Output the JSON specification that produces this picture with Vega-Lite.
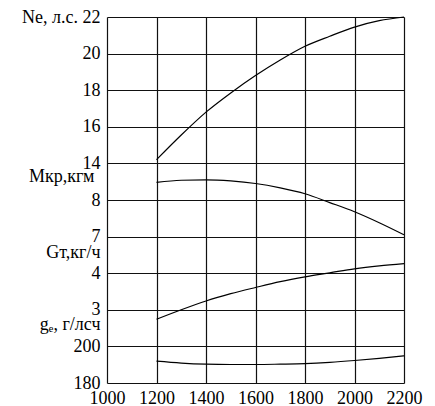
{
  "$schema": "https://vega.github.io/schema/vega-lite/v6.json",
  "width": 297,
  "height": 366,
  "autosize": {"type": "none"},
  "padding": {"left": 107, "top": 17, "right": 31, "bottom": 23},
  "background": "white",
  "config": {"view": {"stroke": null}, "font": "Liberation Serif, Times New Roman, serif"},
  "datasets": {
    "ne": [
      {"rpm": 1200, "v": 14.2}, {"rpm": 1300, "v": 15.55}, {"rpm": 1400, "v": 16.8},
      {"rpm": 1500, "v": 17.85}, {"rpm": 1600, "v": 18.8}, {"rpm": 1700, "v": 19.65},
      {"rpm": 1800, "v": 20.4}, {"rpm": 1900, "v": 20.95}, {"rpm": 2000, "v": 21.45},
      {"rpm": 2100, "v": 21.8}, {"rpm": 2200, "v": 22.0}
    ],
    "mkr": [
      {"rpm": 1200, "v": 8.48}, {"rpm": 1300, "v": 8.54}, {"rpm": 1400, "v": 8.55},
      {"rpm": 1500, "v": 8.52}, {"rpm": 1600, "v": 8.45}, {"rpm": 1700, "v": 8.33},
      {"rpm": 1800, "v": 8.17}, {"rpm": 1900, "v": 7.93}, {"rpm": 2000, "v": 7.68},
      {"rpm": 2100, "v": 7.38}, {"rpm": 2200, "v": 7.05}
    ],
    "gt": [
      {"rpm": 1200, "v": 2.74}, {"rpm": 1300, "v": 3.0}, {"rpm": 1400, "v": 3.24},
      {"rpm": 1500, "v": 3.44}, {"rpm": 1600, "v": 3.61}, {"rpm": 1700, "v": 3.77},
      {"rpm": 1800, "v": 3.9}, {"rpm": 1900, "v": 4.01}, {"rpm": 2000, "v": 4.12},
      {"rpm": 2100, "v": 4.2}, {"rpm": 2200, "v": 4.26}
    ],
    "ge": [
      {"rpm": 1200, "v": 191.9}, {"rpm": 1300, "v": 190.9}, {"rpm": 1400, "v": 190.3},
      {"rpm": 1500, "v": 190.1}, {"rpm": 1600, "v": 190.1}, {"rpm": 1700, "v": 190.3},
      {"rpm": 1800, "v": 190.6}, {"rpm": 1900, "v": 191.3}, {"rpm": 2000, "v": 192.3},
      {"rpm": 2100, "v": 193.5}, {"rpm": 2200, "v": 194.8}
    ]
  },
  "encoding": {
    "x": {
      "field": "rpm",
      "type": "quantitative",
      "scale": {"domain": [1000, 2200], "nice": false, "zero": false},
      "axis": {
        "values": [1000, 1200, 1400, 1600, 1800, 2000, 2200],
        "grid": true,
        "gridColor": "#111111",
        "gridWidth": 1.2,
        "gridOpacity": 1,
        "ticks": false,
        "domain": false,
        "title": null,
        "labelFont": "Liberation Serif, Times New Roman, serif",
        "labelFontSize": 18,
        "labelColor": "black",
        "labelPadding": 6,
        "labelFlush": false,
        "format": "d"
      }
    }
  },
  "layer": [
    {
      "data": {"name": "ne"},
      "mark": {"type": "line", "interpolate": "monotone", "color": "black", "strokeWidth": 1.2},
      "encoding": {
        "y": {
          "field": "v",
          "type": "quantitative",
          "scale": {"domain": [2, 22], "nice": false, "zero": false},
          "axis": {
            "orient": "left",
            "values": [2, 4, 5.2, 6, 8, 9.14, 10, 12, 13.3, 14, 16, 18, 20, 22],
            "labelExpr": "datum.value == 13.3 ? 'Мкр,кгм' : datum.value == 9.14 ? 'Gт,кг/ч' : datum.value == 5.2 ? 'gₑ, г/лсч' : ['180','200','3','4','7','8','14','16','18','20','Ne, л.с. 22'][(datum.value - 2) / 2]",
            "grid": true,
            "gridColor": "#111111",
            "gridWidth": 1.2,
            "gridOpacity": {"condition": {"test": "datum.value % 2 != 0", "value": 0}, "value": 1},
            "ticks": false,
            "domain": false,
            "title": null,
            "labelFont": "Liberation Serif, Times New Roman, serif",
            "labelFontSize": 18,
            "labelColor": "black",
            "labelPadding": {"condition": {"test": "datum.value == 13.3", "value": 13}, "value": 7},
            "labelFlush": false,
            "labelOverlap": false
          }
        }
      }
    },
    {
      "data": {"name": "mkr"},
      "mark": {"type": "line", "interpolate": "monotone", "color": "black", "strokeWidth": 1.2},
      "encoding": {
        "y": {"field": "v", "type": "quantitative", "scale": {"domain": [3, 13], "nice": false, "zero": false}, "axis": null}
      }
    },
    {
      "data": {"name": "gt"},
      "mark": {"type": "line", "interpolate": "monotone", "color": "black", "strokeWidth": 1.2},
      "encoding": {
        "y": {"field": "v", "type": "quantitative", "scale": {"domain": [1, 11], "nice": false, "zero": false}, "axis": null}
      }
    },
    {
      "data": {"name": "ge"},
      "mark": {"type": "line", "interpolate": "monotone", "color": "black", "strokeWidth": 1.2},
      "encoding": {
        "y": {"field": "v", "type": "quantitative", "scale": {"domain": [180, 380], "nice": false, "zero": false}, "axis": null}
      }
    }
  ],
  "resolve": {"scale": {"y": "independent"}, "axis": {"y": "independent"}}
}
